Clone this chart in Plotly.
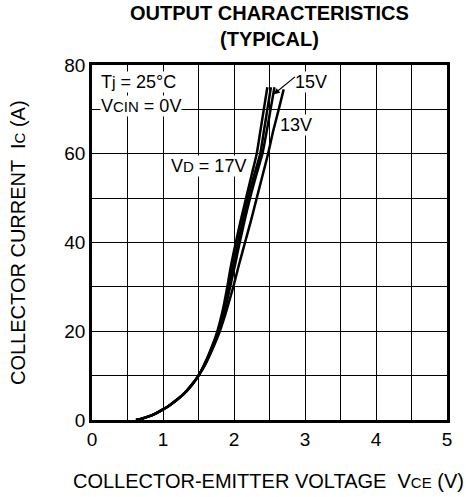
import plotly.graph_objects as go

# Data (VCE in V, IC in A)
ic_common = [0, 0.3, 0.8, 1.5, 2.4, 3.4, 4.6, 6.0, 7.8]
vce_common = [0.62, 0.70, 0.80, 0.90, 1.00, 1.10, 1.20, 1.30, 1.40]

ic_upper = [10, 12.5, 15, 20, 25, 30, 35, 40, 45, 50, 55, 60, 65, 70, 75]
vce_17 = [1.50, 1.58, 1.65, 1.765, 1.845, 1.905, 1.96, 2.025, 2.095, 2.17, 2.245, 2.32, 2.37, 2.42, 2.47]
vce_16 = [1.50, 1.585, 1.655, 1.775, 1.86, 1.925, 1.99, 2.055, 2.125, 2.195, 2.28, 2.37, 2.42, 2.47, 2.52]
vce_15 = [1.50, 1.59, 1.66, 1.785, 1.875, 1.945, 2.015, 2.08, 2.15, 2.225, 2.31, 2.40, 2.46, 2.515, 2.57]
ic_upper_13 = [10, 12.5, 15, 20, 25, 30, 35, 40, 45, 50, 55, 60, 65, 70, 74.5]
vce_13 = [1.50, 1.595, 1.67, 1.80, 1.90, 1.99, 2.07, 2.155, 2.24, 2.32, 2.40, 2.48, 2.55, 2.63, 2.70]

x_ticks = [0, 1, 2, 3, 4, 5]
y_ticks = [0, 20, 40, 60, 80]

FONT = "Liberation Sans, Arial, Helvetica, sans-serif"
SM = "<span style='font-size:15px'>{}</span>"

fig = go.Figure()
series = [
    (vce_17, ic_upper, "17V"),
    (vce_16, ic_upper, "16V"),
    (vce_15, ic_upper, "15V"),
    (vce_13, ic_upper_13, "13V"),
]
for xs, ys, name in series:
    fig.add_trace(go.Scatter(x=vce_common + xs, y=ic_common + ys, mode="lines", name=name,
                             line=dict(color="black", width=2.5, shape="spline", smoothing=0.5),
                             showlegend=False, hoverinfo="skip"))

fig.update_xaxes(range=[0, 5], tickvals=x_ticks, ticktext=[str(v) for v in x_ticks],
                 showgrid=True, gridcolor="black", gridwidth=1,
                 minor=dict(dtick=0.5, showgrid=True, gridcolor="black", gridwidth=1),
                 showline=True, linecolor="black", linewidth=2.5, mirror=True,
                 ticks="", zeroline=False, automargin=False,
                 tickfont=dict(size=19, color="black", family=FONT))
fig.update_yaxes(range=[0, 80], tickvals=y_ticks, ticktext=[str(v) for v in y_ticks],
                 showgrid=True, gridcolor="black", gridwidth=1,
                 minor=dict(dtick=10, showgrid=True, gridcolor="black", gridwidth=1),
                 showline=True, linecolor="black", linewidth=2.5, mirror=True,
                 ticks="", zeroline=False, automargin=False,
                 tickfont=dict(size=19, color="black", family=FONT))

ann = []
ann.append(dict(x=0.11, y=76.2, xref="x", yref="y", xanchor="left", yanchor="middle",
                text="T<span style='font-size:16px'>j</span> = 25°C", showarrow=False,
                font=dict(size=18), bgcolor="white", borderpad=0))
ann.append(dict(x=0.11, y=70.8, xref="x", yref="y", xanchor="left", yanchor="middle",
                text="V" + SM.format("CIN") + " = 0V", showarrow=False,
                font=dict(size=18), bgcolor="white", borderpad=0))
ann.append(dict(x=1.64, y=57.3, xref="x", yref="y", xanchor="center", yanchor="middle",
                text="V" + SM.format("D") + " = 17V", showarrow=False,
                font=dict(size=18), bgcolor="white", borderpad=0))
ann.append(dict(x=3.09, y=76.2, xref="x", yref="y", xanchor="center", yanchor="middle",
                text="15V", showarrow=False, font=dict(size=18), bgcolor="white", borderpad=0))
ann.append(dict(x=2.56, y=73.4, xref="x", yref="y", axref="x", ayref="y", ax=2.88, ay=77.6,
                text="", showarrow=True, arrowhead=2, arrowsize=1, arrowwidth=1.2,
                arrowcolor="black"))
ann.append(dict(x=2.88, y=66.5, xref="x", yref="y", xanchor="center", yanchor="middle",
                text="13V", showarrow=False, font=dict(size=18), bgcolor="white", borderpad=0))

fig.update_layout(
    width=466, height=497,
    margin=dict(l=92, r=19, t=65, b=77, autoexpand=False),
    paper_bgcolor="white", plot_bgcolor="white",
    font=dict(family=FONT, color="black", size=18),
    annotations=ann,
)

pw, ph = 466 - 92 - 19, 497 - 65 - 77

def px_to_paper(px, py):
    return (px - 92) / pw, (497 - 77 - py) / ph

tx, ty = px_to_paper(269, 26)
fig.add_annotation(x=tx, y=ty, xref="paper", yref="paper", xanchor="center", yanchor="middle",
                   text="<b>OUTPUT CHARACTERISTICS<br>(TYPICAL)</b>", showarrow=False,
                   font=dict(size=20, family=FONT))
ax_x, ax_y = px_to_paper(268, 481)
fig.add_annotation(x=ax_x, y=ax_y, xref="paper", yref="paper", xanchor="center", yanchor="middle",
                   text="COLLECTOR-EMITTER VOLTAGE  V" + SM.format("CE") + " (V)", showarrow=False,
                   font=dict(size=20, family=FONT))
ay_x, ay_y = px_to_paper(18, 243)
fig.add_annotation(x=ay_x, y=ay_y, xref="paper", yref="paper", xanchor="center", yanchor="middle",
                   text="COLLECTOR CURRENT  I" + SM.format("C") + " (A)", showarrow=False,
                   textangle=-90, font=dict(size=20, family=FONT))

fig.write_html("out.html", config={"displayModeBar": False},
               post_script="document.body.style.margin='0';")
